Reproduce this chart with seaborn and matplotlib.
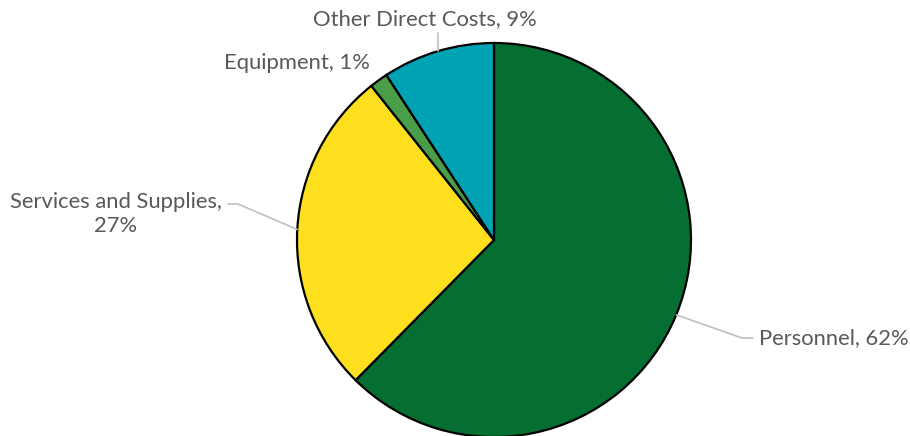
import numpy as np
import seaborn as sns
import matplotlib.pyplot as plt

sns.set_style("white")
plt.rcParams['font.family'] = ['Lato', 'DejaVu Sans']

categories = ["Personnel", "Services and Supplies", "Equipment", "Other Direct Costs"]
values = [62.4, 26.9, 1.5, 9.2]
pct_labels = ["62%", "27%", "1%", "9%"]
colors = ["#056F31", "#FDDF1E", "#4A9E4A", "#00A3B4"]

W, H = 910, 436
fig = plt.figure(figsize=(W / 100, H / 100), dpi=100)
ax = fig.add_axes([0, 0, 1, 1])

cx, cy, r = 494, H - 240, 197
wedges, _ = ax.pie(values, colors=colors, startangle=90, counterclock=False,
                   center=(cx, cy), radius=r, frame=True,
                   wedgeprops=dict(edgecolor='black', linewidth=1.6))
ax.set_xlim(0, W)
ax.set_ylim(0, H)
ax.set_aspect('equal')
ax.axis('off')

txt = dict(color='#595959', fontsize=15.8)
lead = dict(color='#BFBFBF', lw=1.2)

# mid angle of each wedge, clockwise from 12 o'clock
cum = np.cumsum([0] + values)
mids = [(cum[i] + values[i] / 2) / sum(values) * 2 * np.pi for i in range(len(values))]


def edge_pt(i):
    return cx + r * np.sin(mids[i]), cy + r * np.cos(mids[i])


# Personnel
x0, y0 = edge_pt(0)
ax.plot([x0, 742, 753], [y0, H - 338, H - 338], **lead)
ax.text(759, H - 338, f"{categories[0]}, {pct_labels[0]}", ha='left', va='center', **txt)

# Services and Supplies
x0, y0 = edge_pt(1)
ax.plot([x0, 238, 228], [y0, H - 204, H - 204], **lead)
ax.text(116, H - 214, f"{categories[1]},\n{pct_labels[1]}", ha='center', va='center',
        multialignment='center', linespacing=1.3, **txt)

# Equipment
ax.text(297, H - 63, f"{categories[2]}, {pct_labels[2]}", ha='center', va='center', **txt)

# Other Direct Costs
x0, y0 = edge_pt(3)
ax.plot([x0, x0], [y0, H - 33], **lead)
ax.text(425, H - 19, f"{categories[3]}, {pct_labels[3]}", ha='center', va='center', **txt)

fig.savefig("out.png", dpi=100)
